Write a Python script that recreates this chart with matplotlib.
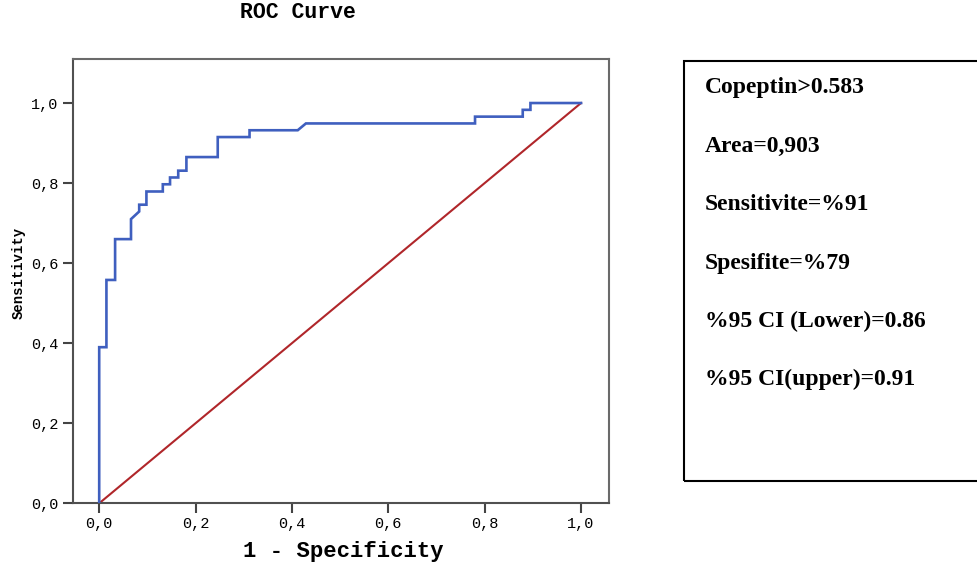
import matplotlib
matplotlib.use("Agg")
import matplotlib.pyplot as plt
from matplotlib.patches import Rectangle

# ROC curve points (1 - specificity, sensitivity)
fpr = [0.0, 0.0, 0.015, 0.015, 0.033, 0.033, 0.066, 0.066, 0.083, 0.083,
       0.098, 0.098, 0.132, 0.132, 0.147, 0.147, 0.164, 0.164, 0.181, 0.181,
       0.246, 0.246, 0.312, 0.312, 0.412, 0.429, 0.780, 0.780, 0.879, 0.879,
       0.895, 0.895, 1.0]
tpr = [0.0, 0.39, 0.39, 0.558, 0.558, 0.66, 0.66, 0.71, 0.729, 0.746,
       0.746, 0.779, 0.779, 0.797, 0.797, 0.814, 0.814, 0.831, 0.831, 0.865,
       0.865, 0.915, 0.915, 0.932, 0.932, 0.949, 0.949, 0.966, 0.966, 0.983,
       0.983, 1.0, 1.0]
ref_x = [0.0, 1.0]
ref_y = [0.0, 1.0]

ticks = [0.0, 0.2, 0.4, 0.6, 0.8, 1.0]
tick_labels = ["0,0", "0,2", "0,4", "0,6", "0,8", "1,0"]

info_lines = ["Copeptin>0.583", "Area=0,903", "Sensitivite=%91",
              "Spesifite=%79", "%95 CI (Lower)=0.86", "%95 CI(upper)=0.91"]

W, H = 977, 570
fig = plt.figure(figsize=(W / 100, H / 100), dpi=100)
fig.patch.set_facecolor("white")

left, right, bottom, top = 72.7, 608.5, 503.3, 59
ax = fig.add_axes([left / W, (H - bottom) / H, (right - left) / W, (bottom - top) / H])

ax.plot(fpr, tpr, color="#3f5fbf", lw=1.9, solid_joinstyle="miter", zorder=3)
ax.plot(ref_x, ref_y, color="#b0262a", lw=1.5, zorder=2)

ax.set_xlim(-0.055, 1.057)
ax.set_ylim(0.0, 1.11)

mono = "Liberation Mono"
ax.set_xticks(ticks)
ax.set_xticklabels(tick_labels, fontfamily=mono, fontsize=11)
ax.set_yticks(ticks)
ax.set_yticklabels(tick_labels, fontfamily=mono, fontsize=11)
ax.tick_params(direction="out", length=7, width=1.5, color="#444444", pad=3)

for name, s in ax.spines.items():
    s.set_color("#505050" if name in ("left", "bottom") else "#6a6a6a")
    s.set_linewidth(1.5)

fig.text(298 / W, 1 - 12 / H, "ROC Curve", ha="center", va="center",
         fontfamily=mono, fontweight="bold", fontsize=15.5)
fig.text(343 / W, 1 - 551 / H, "1 - Specificity", ha="center", va="center",
         fontfamily=mono, fontweight="bold", fontsize=16)
fig.text(19 / W, 1 - 273 / H, "Sensitivity", ha="center", va="center",
         rotation=90, fontfamily=mono, fontweight="bold", fontsize=10)

# info box
bx0, by0, by1 = 684, 61, 481
rect = Rectangle((bx0 / W, (H - by1) / H), (1000 - bx0) / W, (by1 - by0) / H,
                 transform=fig.transFigure, fill=False, edgecolor="black",
                 linewidth=1.5, clip_on=False)
fig.patches.append(rect)

line_baseline = [93.5, 152, 210, 268.5, 327, 385]
for txt, yy in zip(info_lines, line_baseline):
    fig.text(705 / W, 1 - yy / H, txt, ha="left", va="baseline",
             fontfamily="Liberation Serif", fontweight="bold", fontsize=17)

fig.savefig("out.png", dpi=100)
